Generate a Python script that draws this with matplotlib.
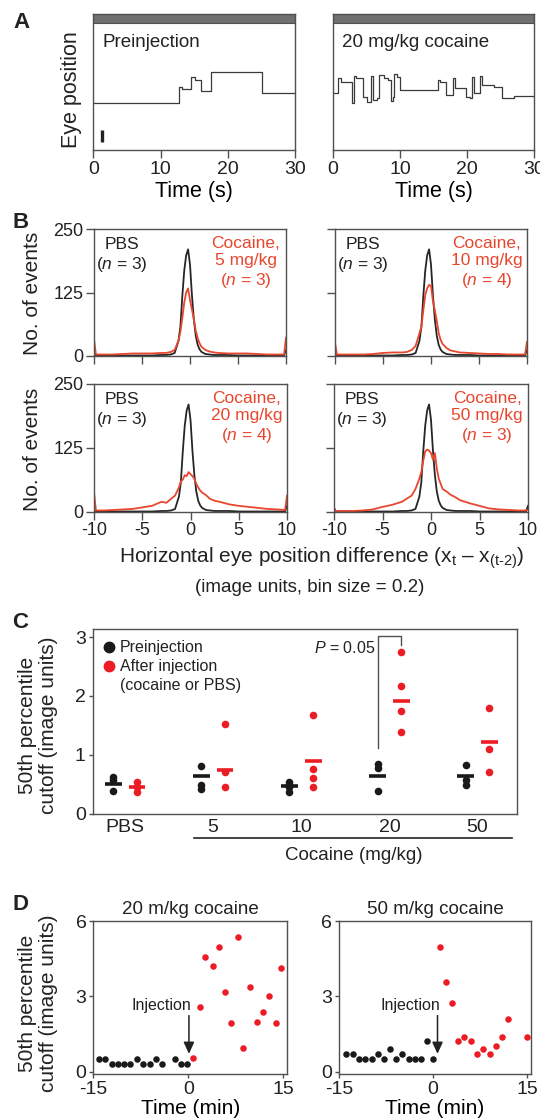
import matplotlib
matplotlib.use("Agg")
import matplotlib.pyplot as plt
from matplotlib.lines import Line2D
from matplotlib.transforms import blended_transform_factory

plt.rcParams["font.family"] = ["Liberation Sans", "DejaVu Sans"]
plt.rcParams["mathtext.fontset"] = "custom"
plt.rcParams["mathtext.rm"] = "Liberation Sans"
plt.rcParams["mathtext.it"] = "Liberation Sans:italic"
plt.rcParams["axes.unicode_minus"] = False
plt.rcParams["text.color"] = "#222222"
plt.rcParams["axes.edgecolor"] = "#505050"
plt.rcParams["axes.linewidth"] = 1.0
plt.rcParams["xtick.color"] = "#505050"
plt.rcParams["ytick.color"] = "#505050"
plt.rcParams["xtick.labelcolor"] = "#222222"
plt.rcParams["ytick.labelcolor"] = "#222222"

RED_LINE = "#e8462d"
RED_DOT = "#ec1c24"
BLACK_DOT = "#1a1a1a"

# ---- A: eye position traces (step levels, arbitrary units) ----
pre_t = [0, 12.8, 13.2, 14.6, 15.2, 16.1, 17.5, 25.1, 30]
pre_pos = [3.45, 4.6, 4.45, 5.35, 5.1, 4.3, 5.7, 4.2, 4.2]
coc_t = [0, 0.8, 1.2, 2.9, 3.1, 3.5, 4.5, 5.0, 5.7, 6.0, 6.5, 6.9, 7.6, 8.2,
         8.7, 8.9, 9.1, 9.5, 10.0, 15.7, 16.0, 16.9, 17.9, 18.2, 19.9, 20.5,
         20.7, 21.0, 21.9, 22.3, 24.0, 25.2, 27.0, 30]
coc_pos = [4.2, 5.25, 5.0, 3.4, 5.45, 5.3, 3.9, 3.5, 5.4, 3.65, 3.8, 5.5, 5.3, 5.15,
           3.55, 3.9, 5.55, 5.35, 4.4, 5.1, 5.0, 4.0, 5.25, 4.5, 3.9, 3.8,
           5.35, 4.2, 5.45, 4.75, 4.6, 3.8, 3.95, 3.95]
scale_bar_t = [1.3, 1.3]
scale_bar_pos = [0.56, 1.45]

# ---- B: histograms of eye position difference ----
b_x = [-10, -9.8, -9, -8, -7, -6, -5, -4, -3, -2.5, -2, -1.6, -1.2, -1.0, -0.8,
       -0.6, -0.4, -0.2, 0, 0.2, 0.4, 0.6, 0.8, 1.0, 1.2, 1.6, 2, 2.5, 3, 4, 5,
       6, 7, 8, 9, 9.8, 10]
b_pbs = [8, 1, 1, 1, 1, 1, 1, 1, 2, 2, 3, 6, 30, 58, 118, 168, 198, 210, 180,
         120, 72, 40, 22, 13, 8, 4, 3, 2, 2, 2, 1, 1, 1, 1, 1, 1, 12]
b_coc5 = [33, 3, 3, 3, 4, 5, 5, 5, 6, 6, 8, 12, 30, 48, 75, 105, 125, 133, 110,
          92, 72, 50, 35, 25, 18, 12, 9, 7, 6, 5, 5, 5, 4, 3, 3, 3, 36]
b_coc10 = [26, 3, 3, 3, 3, 4, 6, 7, 7, 8, 12, 20, 45, 58, 90, 120, 133, 140, 138,
           108, 90, 70, 45, 32, 24, 16, 11, 9, 7, 6, 5, 4, 4, 3, 3, 3, 28]
b_coc20 = [38, 3, 3, 4, 5, 6, 9, 12, 20, 18, 26, 32, 48, 60, 63, 72, 70, 78, 74,
           70, 65, 55, 48, 42, 38, 33, 26, 22, 20, 15, 12, 10, 8, 6, 5, 4, 32]
b_coc50 = [5, 2, 2, 2, 3, 5, 10, 14, 20, 26, 32, 45, 65, 78, 100, 118, 122, 120, 115,
           102, 115, 85, 65, 55, 45, 40, 34, 29, 23, 17, 12, 7, 5, 4, 3, 3, 4]
b_doses = ["5", "10", "20", "50"]
b_n = [3, 4, 4, 3]

# ---- C: 50th percentile cutoff per group ----
c_groups = ["PBS", "5", "10", "20", "50"]
c_pre = [[0.62, 0.57, 0.38], [0.81, 0.49, 0.41], [0.54, 0.48, 0.45, 0.37],
         [0.85, 0.78, 0.38], [0.82, 0.57, 0.48]]
c_post = [[0.54, 0.45, 0.37], [1.53, 0.71, 0.45], [1.68, 0.75, 0.60, 0.45],
          [2.75, 2.17, 1.74, 1.38], [1.79, 1.09, 0.71]]
c_pre_bar = [0.51, 0.64, 0.47, 0.64, 0.64]
c_post_bar = [0.45, 0.74, 0.89, 1.92, 1.21]

# ---- D: cutoff over time ----
d20_pre_t = [-14.1, -13.1, -12.1, -11.1, -10.2, -9.2, -8.1, -7.1, -6.1, -5.1, -4.1, -2.1, -1.2, -0.2]
d20_pre_v = [0.52, 0.52, 0.32, 0.32, 0.32, 0.32, 0.52, 0.32, 0.32, 0.52, 0.32, 0.52, 0.32, 0.32]
d20_post_t = [0.8, 1.9, 2.7, 3.9, 4.8, 5.8, 6.8, 7.8, 8.7, 9.7, 10.8, 11.8, 12.8, 13.8, 14.7]
d20_post_v = [0.55, 2.59, 4.57, 4.2, 4.98, 3.19, 1.93, 5.38, 0.94, 3.38, 1.97, 2.38, 3.03, 1.93, 4.14]
d50_pre_t = [-13.9, -12.8, -11.8, -10.8, -9.8, -8.8, -7.9, -6.9, -5.9, -4.9, -3.9, -2.9, -1.9, -0.9, 0.0]
d50_pre_v = [0.70, 0.70, 0.52, 0.52, 0.52, 0.70, 0.52, 0.91, 0.52, 0.70, 0.52, 0.52, 0.52, 1.24, 0.52]
d50_post_t = [1.1, 2.1, 3.0, 4.0, 5.0, 6.0, 7.0, 8.0, 9.0, 10.0, 11.0, 12.0, 14.9]
d50_post_v = [4.97, 3.59, 2.75, 1.24, 1.40, 1.24, 0.70, 0.91, 0.70, 1.05, 1.40, 2.09, 1.40]

W, H = 540, 1118
fig = plt.figure(figsize=(W / 100, H / 100), dpi=100)


def px_axes(x0, y0, x1, y1):
    return fig.add_axes([x0 / W, 1 - y1 / H, (x1 - x0) / W, (y1 - y0) / H])


def fig_text(x, y, s, **kw):
    fig.text(x / W, 1 - y / H, s, **kw)


# panel letters
for letter, (lx, ly) in zip("ABCD", [(21, 22), (21, 222), (20, 623), (20, 905)]):
    fig_text(lx, ly, letter, fontsize=16, fontweight="bold", ha="center", va="center")

# ---------------- A ----------------
for (x0, x1), t, pos, name in [((93.4, 294.8), pre_t, pre_pos, "Preinjection"),
                               ((333, 534), coc_t, coc_pos, "20 mg/kg cocaine")]:
    ax = px_axes(x0, 13.8, x1, 149.5)
    ax.step(t, pos, where="post", color="#3a3a3a", lw=0.9)
    ax.axhspan(9.3, 10, color="#6f6f6f", lw=0)
    ax.axhline(9.3, color="#505050", lw=0.8)
    ax.set_xlim(0, 30)
    ax.set_ylim(0, 10)
    ax.set_xticks([0, 10, 20, 30])
    ax.set_yticks([])
    ax.tick_params(axis="x", direction="out", length=5.5, width=1, labelsize=14, pad=3)
    ax.set_xlabel("Time (s)", fontsize=15.5, labelpad=2)
    ax.text(0.045, 0.79, name, transform=ax.transAxes, fontsize=13.5, va="center")
    if name == "Preinjection":
        ax.plot(scale_bar_t, scale_bar_pos, color="#222222", lw=2.4, solid_capstyle="butt")
fig_text(71, 90, "Eye position", fontsize=15.5, rotation=90, ha="center", va="center")

# ---------------- B ----------------
b_boxes = [(94, 229, 286, 356), (335, 229, 527, 356),
           (94, 384, 287, 512), (334, 384, 528, 512)]
b_curves = [b_coc5, b_coc10, b_coc20, b_coc50]
for k, (bb, coc, dose, n) in enumerate(zip(b_boxes, b_curves, b_doses, b_n)):
    ax = px_axes(*bb)
    ax.plot(b_x, b_pbs, color="#262626", lw=1.3)
    ax.plot(b_x, coc, color=RED_LINE, lw=1.3)
    ax.set_xlim(-10, 10)
    ax.set_ylim(0, 250)
    ax.set_xticks([-10, -5, 0, 5, 10])
    ax.set_yticks([0, 125, 250])
    ax.tick_params(direction="out", length=5.5, width=1, labelsize=13, pad=2)
    if k < 2:
        ax.set_xticklabels([])
    if k % 2 == 1:
        ax.set_yticklabels([])
    ax.text(0.145, 0.935, "PBS\n($\\mathit{n}$ = 3)", transform=ax.transAxes,
            ha="center", va="top", fontsize=12.5, linespacing=1.2)
    ax.text(0.79, 0.945, "Cocaine,\n%s mg/kg\n($\\mathit{n}$ = %d)" % (dose, n),
            transform=ax.transAxes, ha="center", va="top", fontsize=12.5,
            color=RED_LINE, linespacing=1.2, multialignment="center")
fig_text(32, 293, "No. of events", fontsize=15, rotation=90, ha="center", va="center")
fig_text(32, 449, "No. of events", fontsize=15, rotation=90, ha="center", va="center")
fig_text(322, 558, "Horizontal eye position difference (x$_{\\mathrm{t}}$ \u2013 x$_{\\mathrm{(t\u20102)}}$)",
         fontsize=15, ha="center", va="center")
fig_text(310, 588, "(image units, bin size = 0.2)", fontsize=13.5, ha="center", va="center")

# ---------------- C ----------------
ax = px_axes(92.7, 629, 517, 813.5)
off = 0.135
half = 0.095
for i in range(len(c_groups)):
    ax.scatter([i - off] * len(c_pre[i]), c_pre[i], s=30, color=BLACK_DOT, lw=0, zorder=3)
    ax.scatter([i + off] * len(c_post[i]), c_post[i], s=30, color=RED_DOT, lw=0, zorder=3)
    ax.plot([i - off - half, i - off + half], [c_pre_bar[i]] * 2, color=BLACK_DOT, lw=2.6,
            solid_capstyle="butt", zorder=4)
    ax.plot([i + off - half, i + off + half], [c_post_bar[i]] * 2, color=RED_DOT, lw=2.6,
            solid_capstyle="butt", zorder=4)
ax.plot([3 - off, 3 - off, 3 + off, 3 + off], [1.11, 3.02, 3.02, 2.87], color="#505050", lw=1)
ax.text(2.84, 2.81, "$\\mathit{P}$ = 0.05", ha="right", va="center", fontsize=11.5)
ax.set_xlim(-0.367, 4.448)
ax.set_ylim(0, 3.14)
ax.set_xticks(range(len(c_groups)))
ax.set_xticklabels(c_groups)
ax.set_yticks([0, 1, 2, 3])
ax.tick_params(axis="x", length=0, labelsize=14, pad=4)
ax.tick_params(axis="y", direction="out", length=3, width=1, labelsize=14, pad=2)
handles = [Line2D([], [], marker="o", ls="", color=BLACK_DOT, ms=7.5),
           Line2D([], [], marker="o", ls="", color=RED_DOT, ms=7.5),
           Line2D([], [], marker="", ls="")]
ax.legend(handles, ["Preinjection", "After injection", "(cocaine or PBS)"],
          loc="upper left", frameon=False, fontsize=11.5, handlelength=0.7,
          handletextpad=0.3, labelspacing=0.25, borderaxespad=0.6, borderpad=0.1)
trans = blended_transform_factory(ax.transData, ax.transAxes)
ax.plot([0.78, 4.39], [-0.133, -0.133], color="#222222", lw=1.2, transform=trans, clip_on=False)
ax.text(2.6, -0.23, "Cocaine (mg/kg)", transform=trans, ha="center", va="center", fontsize=13.5)
fig_text(38, 725, "50th percentile\ncutoff (image units)", fontsize=15, rotation=90,
         ha="center", va="center", linespacing=1.15)

# ---------------- D ----------------
d_sets = [((93.4, 287), "20 m/kg cocaine", d20_pre_t, d20_pre_v, d20_post_t, d20_post_v, 0.1, -4.2),
          ((339, 531), "50 m/kg cocaine", d50_pre_t, d50_pre_v, d50_post_t, d50_post_v, 0.7, -3.6)]
for (x0, x1), title, pt, pv, qt, qv, arrow_t, label_t in d_sets:
    ax = px_axes(x0, 921, x1, 1074)
    ax.scatter(pt, pv, s=22, color=BLACK_DOT, lw=0, zorder=3)
    ax.scatter(qt, qv, s=22, color=RED_DOT, lw=0, zorder=3)
    ax.annotate("", xy=(arrow_t, 0.72), xytext=(arrow_t, 2.24),
                arrowprops=dict(arrowstyle="-|>,head_length=0.7,head_width=0.32",
                                color="#222222", lw=1.1, shrinkA=0, shrinkB=0))
    ax.text(label_t, 2.66, "Injection", ha="center", va="center", fontsize=11.5)
    ax.set_xlim(-15, 15.6)
    ax.set_ylim(-0.08, 6)
    ax.set_xticks([-15, 0, 15])
    ax.set_yticks([0, 3, 6])
    ax.tick_params(direction="out", length=3, width=1, labelsize=14, pad=2)
    ax.set_title(title, fontsize=13.5, pad=5)
    ax.set_xlabel("Time (min)", fontsize=15, labelpad=1)
fig_text(38, 1003, "50th percentile\ncutoff (image units)", fontsize=15, rotation=90,
         ha="center", va="center", linespacing=1.15)

fig.savefig("out.png", dpi=100)
